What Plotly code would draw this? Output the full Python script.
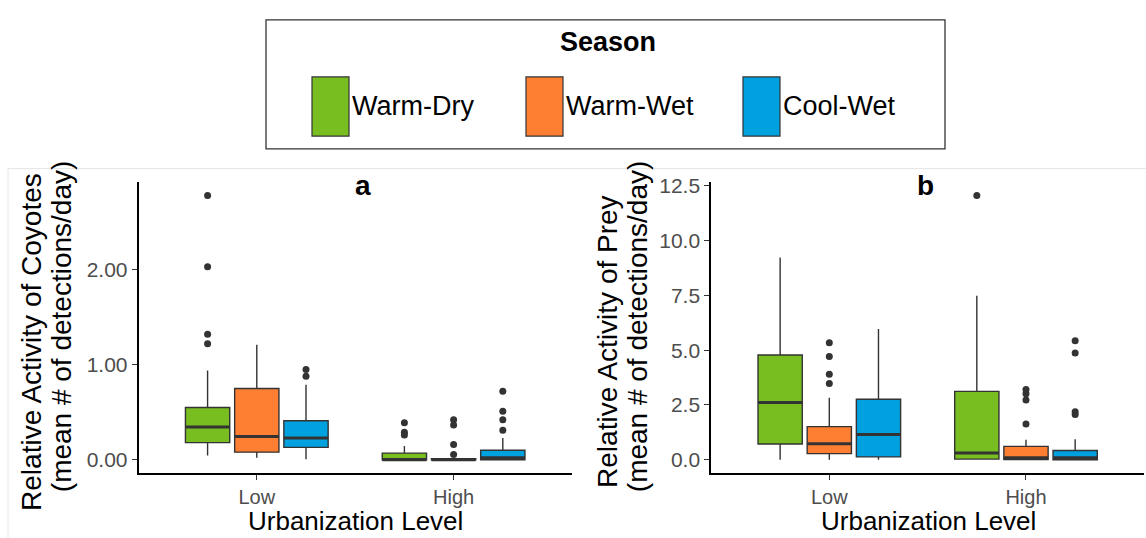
import plotly.graph_objects as go

# ---- data -------------------------------------------------------------
levels = ["Low", "High"]
seasons = ["Warm-Dry", "Warm-Wet", "Cool-Wet"]
season_colors = ["#78BE21", "#FE7F32", "#00A1DF"]

# Panel a: coyote relative activity (per season: values for Low, High)
coy_q1 = {"Warm-Dry": [0.18, 0.0], "Warm-Wet": [0.08, 0.0], "Cool-Wet": [0.13, 0.0]}
coy_med = {"Warm-Dry": [0.345, 0.0], "Warm-Wet": [0.245, 0.0], "Cool-Wet": [0.23, 0.02]}
coy_q3 = {"Warm-Dry": [0.55, 0.07], "Warm-Wet": [0.75, 0.01], "Cool-Wet": [0.41, 0.10]}
coy_lo = {"Warm-Dry": [0.045, 0.0], "Warm-Wet": [0.02, 0.0], "Cool-Wet": [0.006, 0.0]}
coy_hi = {"Warm-Dry": [0.94, 0.145], "Warm-Wet": [1.21, 0.02], "Cool-Wet": [0.79, 0.23]}
coy_out = {
    "Warm-Dry": [[2.78, 2.03, 1.32, 1.22], [0.39, 0.29, 0.26]],
    "Warm-Wet": [[], [0.42, 0.365, 0.16, 0.055]],
    "Cool-Wet": [[0.95, 0.88], [0.72, 0.51, 0.42, 0.31]],
}

# Panel b: prey relative activity
prey_q1 = {"Warm-Dry": [0.72, 0.03], "Warm-Wet": [0.28, 0.015], "Cool-Wet": [0.13, 0.0]}
prey_med = {"Warm-Dry": [2.61, 0.31], "Warm-Wet": [0.73, 0.09], "Cool-Wet": [1.15, 0.09]}
prey_q3 = {"Warm-Dry": [4.78, 3.12], "Warm-Wet": [1.51, 0.61], "Cool-Wet": [2.76, 0.42]}
prey_lo = {"Warm-Dry": [0.0, 0.0], "Warm-Wet": [0.0, 0.0], "Cool-Wet": [0.0, 0.0]}
prey_hi = {"Warm-Dry": [9.23, 7.48], "Warm-Wet": [2.83, 0.91], "Cool-Wet": [5.97, 0.94]}
prey_out = {
    "Warm-Dry": [[], [12.05]],
    "Warm-Wet": [[5.34, 4.71, 3.90, 3.48], [3.21, 3.01, 2.73, 1.63]],
    "Cool-Wet": [[], [5.43, 4.87, 2.19, 2.07]],
}

coy_ticks = [0, 1, 2]
coy_ticktext = ["0.00", "1.00", "2.00"]
prey_ticks = [0, 2.5, 5, 7.5, 10, 12.5]
prey_ticktext = ["0.0", "2.5", "5.0", "7.5", "10.0", "12.5"]

# ---- layout helpers ----------------------------------------------------
W, H = 1146, 538
FONT = "Liberation Sans, Arial, sans-serif"
DARK = "#333333"
DODGE = 0.25      # spacing between seasons within a level
BOX_W = 0.225     # box width in category units


def px(x):
    return x / W


def py(y):
    return 1 - y / H


fig = go.Figure()


def add_panel(xa, ya, q1, med, q3, lo, hi, outl):
    for k, s in enumerate(seasons):
        off = (k - 1) * DODGE
        xs = [i + 1 + off for i in range(len(levels))]
        fig.add_trace(go.Box(
            x=xs, q1=q1[s], median=med[s], q3=q3[s],
            lowerfence=lo[s], upperfence=hi[s],
            width=BOX_W, whiskerwidth=0, boxpoints=False,
            fillcolor=season_colors[k],
            line=dict(color=DARK, width=1.4),
            xaxis=xa, yaxis=ya, showlegend=False, hoverinfo="skip",
        ))
        # thicker median bar, as in ggplot boxplots
        mx, my = [], []
        for x0, m in zip(xs, med[s]):
            mx += [x0 - BOX_W / 2, x0 + BOX_W / 2, None]
            my += [m, m, None]
        fig.add_trace(go.Scatter(
            x=mx, y=my, mode="lines", line=dict(color=DARK, width=3),
            xaxis=xa, yaxis=ya, showlegend=False, hoverinfo="skip",
        ))
        ox, oy = [], []
        for x0, pts in zip(xs, outl[s]):
            ox += [x0] * len(pts)
            oy += pts
        fig.add_trace(go.Scatter(
            x=ox, y=oy, mode="markers",
            marker=dict(color=DARK, size=7),
            xaxis=xa, yaxis=ya, showlegend=False, hoverinfo="skip",
        ))


add_panel("x", "y", coy_q1, coy_med, coy_q3, coy_lo, coy_hi, coy_out)
add_panel("x2", "y2", prey_q1, prey_med, prey_q3, prey_lo, prey_hi, prey_out)


def yrange(out, hi):
    top = max(max(v for pair in out.values() for grp in pair for v in grp),
              max(v for vals in hi.values() for v in vals))
    return [-0.05 * top, 1.05 * top]


common_x = dict(
    range=[0.4, 2.6], tickvals=[1, 2], ticktext=levels,
    showline=True, linecolor="black", linewidth=2, mirror=False,
    ticks="outside", ticklen=5, tickwidth=1.2, tickcolor=DARK,
    tickfont=dict(family=FONT, size=20, color="#4D4D4D"),
    showgrid=False, zeroline=False, fixedrange=True,
)
common_y = dict(
    showline=True, linecolor="black", linewidth=2,
    ticks="outside", ticklen=5, tickwidth=1.2, tickcolor=DARK,
    tickfont=dict(family=FONT, size=21, color="#4D4D4D"),
    showgrid=False, zeroline=False, fixedrange=True,
)

y_dom = [py(472), py(177)]

fig.update_layout(
    width=W, height=H,
    margin=dict(l=0, r=0, t=0, b=0),
    paper_bgcolor="white", plot_bgcolor="white",
    boxmode="overlay",
    showlegend=False,
    xaxis=dict(domain=[px(138.7), px(571.7)], anchor="y", **common_x),
    yaxis=dict(domain=y_dom, anchor="x", range=yrange(coy_out, coy_hi),
               tickvals=coy_ticks, ticktext=coy_ticktext, **common_y),
    xaxis2=dict(domain=[px(711.3), px(1144)], anchor="y2", **common_x),
    yaxis2=dict(domain=y_dom, anchor="x2", range=yrange(prey_out, prey_hi),
                tickvals=prey_ticks, ticktext=prey_ticktext, **common_y),
)

shapes = []
annotations = []

# faint frame around the panel grid
shapes.append(dict(type="rect", xref="paper", yref="paper",
                   x0=px(8), x1=px(1150), y0=py(545), y1=py(163),
                   line=dict(color="#E6E6E6", width=1), layer="below"))


def text(x, y, s, size, bold=False, angle=0, xanchor="center", color="black"):
    annotations.append(dict(
        xref="paper", yref="paper", x=px(x), y=py(y), text=f"<b>{s}</b>" if bold else s,
        showarrow=False, textangle=angle, xanchor=xanchor, yanchor="middle",
        font=dict(family=FONT, size=size, color=color),
    ))


# panel tags
text(363, 180, "a", 28, bold=True)
text(925, 180, "b", 28, bold=True)

# axis titles
text(355, 521, "Urbanization Level", 26)
text(928, 521, "Urbanization Level", 26)
text(32, 339, "Relative Activity of Coyotes", 28, angle=-90)
text(61, 323, "(mean # of detections/day)", 28, angle=-90)
text(608, 339, "Relative Activity of Prey", 28, angle=-90)
text(637, 323, "(mean # of detections/day)", 28, angle=-90)

# season legend
shapes.append(dict(type="rect", xref="paper", yref="paper",
                   x0=px(266), x1=px(945), y0=py(143), y1=py(12),
                   line=dict(color=DARK, width=1.3), fillcolor="white"))
text(608, 35, "Season", 27, bold=True)
key_left = [312, 526, 743]
for k, s in enumerate(seasons):
    x0 = key_left[k]
    shapes.append(dict(type="rect", xref="paper", yref="paper",
                       x0=px(x0), x1=px(x0 + 37), y0=py(130), y1=py(70),
                       line=dict(color=DARK, width=1.2),
                       fillcolor=season_colors[k]))
    text(x0 + 38, 99, s, 27, xanchor="left")

fig.update_layout(shapes=shapes, annotations=annotations)

fig.write_html("out.html")
